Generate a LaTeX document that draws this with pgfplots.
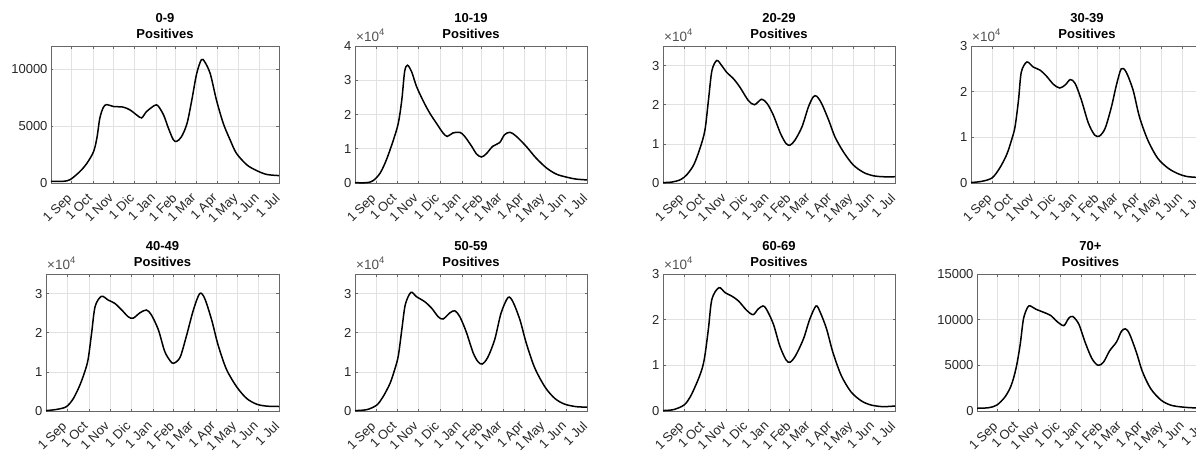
\documentclass[border=0pt]{standalone}
\usepackage{fontspec}
\setmainfont{Liberation Sans}
\usepackage{pgfplots}
\pgfplotsset{compat=1.18}
\definecolor{axgray}{RGB}{38,38,38}
\definecolor{gridgray}{RGB}{225,225,225}
\pgfplotsset{
  panel/.style={
    scale only axis, height=137pt, xmin=0, xmax=332, ymin=0,
    xtick={0,30,61,91,122,153,181,212,242,273,303},
    xticklabels={1 Sep,1 Oct,1 Nov,1 Dic,1 Jan,1 Feb,1 Mar,1 Apr,1 May,1 Jun,1 Jul},
    xticklabel style={rotate=45, anchor=north east, inner sep=0pt, yshift=-17pt, xshift=4pt},
    tick align=inside, major tick length=2.5pt,
    grid=major, grid style={color=gridgray, line width=0.6pt},
    axis line style={color=axgray!70, line width=0.6pt},
    tick style={color=axgray!70, line width=0.6pt},
    ticklabel style={font=\fontsize{13}{15}\selectfont, text=axgray},
    scaled y ticks=false,
    /pgf/number format/assume math mode=true,
    /pgf/number format/1000 sep={},
    title style={font=\bfseries\fontsize{13}{16}\selectfont, align=center, inner sep=2pt, yshift=-1pt},
    clip=false,
    anchor=south west,
  },
  e4/.style={
    after end axis/.code={\node[anchor=south west, inner sep=0pt, xshift=1pt, yshift=4pt, font=\fontsize{13.5}{15}\selectfont, text=axgray!80] at (rel axis cs:0,1) {×10\raisebox{0.45em}{\fontsize{9.5}{9.5}\selectfont 4}};},
  },
  curve/.style={black, line width=1.5pt, smooth, tension=0.5, no markers},
}
\begin{document}
\begin{tikzpicture}
% ---------- 0-9 ----------
\begin{axis}[panel, at={(51pt,273pt)}, width=228pt, ymax=12000, ytick={0,5000,10000}, yticklabels={0,5000,10000}, title={0-9\\Positives}]
\addplot[curve] coordinates {
(0,150)(18,150)(28,300)(42,1000)(52,1700)(62,2750)(67,4000)(71,5650)(76,6600)(81,6870)(91,6700)(105,6650)(115,6400)(125,5950)(132,5700)(139,6250)(151,6800)(156,6750)(164,5950)(171,4800)(178,3800)(183,3650)(190,4050)(198,5200)(205,7250)(212,9550)(219,10800)(224,10600)(232,9550)(241,7250)(251,5200)(261,3750)(270,2600)(285,1600)(299,1100)(314,750)(332,650)
};
\end{axis}
% ---------- 10-19 ----------
\begin{axis}[panel, e4, at={(355pt,273pt)}, width=232pt, ymax=40000, ytick={0,10000,20000,30000,40000}, yticklabels={0,1,2,3,4}, title={10-19\\Positives}]
\addplot[curve] coordinates {
(0,100)(17,100)(26,700)(36,2900)(45,6800)(55,12600)(62,17500)(67,24300)(71,32500)(75,34400)(81,32500)(88,28200)(98,23800)(107,20400)(117,17300)(126,14600)(132,13600)(140,14600)(150,14800)(157,13600)(167,10700)(174,8450)(181,7600)(188,8550)(197,10700)(207,11800)(214,14100)(222,14800)(231,13600)(245,10700)(259,7300)(274,4400)(288,2600)(302,1750)(316,1150)(332,900)
};
\end{axis}
% ---------- 20-29 ----------
\begin{axis}[panel, e4, at={(663pt,273pt)}, width=232pt, ymax=35000, ytick={0,10000,20000,30000}, yticklabels={0,1,2,3}, title={20-29\\Positives}]
\addplot[curve] coordinates {
(0,100)(13,250)(25,850)(34,2100)(44,4650)(53,8900)(60,13500)(65,21100)(70,28700)(77,31300)(84,30000)(91,28300)(101,26600)(110,24500)(122,21100)(131,20000)(141,21400)(149,20300)(158,17300)(168,12700)(176,10100)(182,9700)(189,11000)(199,14400)(208,19400)(215,22000)(220,22150)(227,20300)(237,16100)(246,11800)(258,8000)(272,4650)(287,2700)(301,1850)(315,1600)(332,1600)
};
\end{axis}
% ---------- 30-39 ----------
\begin{axis}[panel, e4, at={(971pt,273pt)}, width=232pt, ymax=30000, ytick={0,10000,20000,30000}, yticklabels={0,1,2,3}, title={30-39\\Positives}]
\addplot[curve] coordinates {
(0,100)(15,350)(30,1100)(41,3250)(51,6200)(58,9400)(63,12300)(68,18200)(72,24300)(80,26500)(89,25400)(99,24700)(108,23400)(118,21600)(127,20800)(135,21500)(142,22650)(149,21800)(158,18150)(168,13100)(177,10500)(184,10300)(192,12000)(201,16700)(208,21400)(215,25000)(222,24300)(232,20300)(241,14500)(253,9400)(267,5450)(282,3250)(296,2050)(308,1450)(321,1250)(332,1150)
};
\end{axis}
% ---------- 40-49 ----------
\begin{axis}[panel, e4, at={(46pt,45pt)}, width=233pt, ymax=35000, ytick={0,10000,20000,30000}, yticklabels={0,1,2,3}, title={40-49\\Positives}]
\addplot[curve] coordinates {
(0,100)(15,400)(29,1100)(39,3200)(48,6500)(55,9900)(60,13200)(65,19900)(70,26700)(79,29300)(89,28300)(98,27500)(108,25800)(117,24100)(124,23700)(134,25100)(143,25800)(150,24600)(160,20800)(169,15300)(177,12800)(182,12200)(191,13700)(200,19100)(210,25800)(219,30000)(226,28800)(236,23300)(245,17000)(257,10700)(272,6100)(286,3200)(300,1750)(314,1250)(332,1150)
};
\end{axis}
% ---------- 50-59 ----------
\begin{axis}[panel, e4, at={(355pt,45pt)}, width=232pt, ymax=35000, ytick={0,10000,20000,30000}, yticklabels={0,1,2,3}, title={50-59\\Positives}]
\addplot[curve] coordinates {
(0,100)(17,350)(31,1500)(40,3600)(50,7000)(57,10700)(62,14100)(67,20800)(72,27200)(80,30300)(88,29200)(100,27900)(110,26200)(119,24100)(126,23500)(136,25100)(143,25600)(150,24100)(159,20300)(169,14900)(176,12600)(182,12000)(190,13700)(200,18300)(209,25000)(219,29000)(226,27900)(236,23300)(245,17400)(257,11100)(272,6100)(286,3200)(300,1750)(317,1100)(332,1000)
};
\end{axis}
% ---------- 60-69 ----------
\begin{axis}[panel, e4, at={(663pt,45pt)}, width=232pt, ymax=30000, ytick={0,10000,20000,30000}, yticklabels={0,1,2,3}, title={60-69\\Positives}]
\addplot[curve] coordinates {
(0,100)(15,300)(30,1300)(39,3100)(49,6400)(56,9300)(60,12200)(65,18000)(70,24500)(80,27000)(89,25900)(98,25200)(108,24100)(120,22000)(129,21100)(136,22300)(143,23000)(148,22300)(158,19000)(167,14300)(176,11200)(182,10700)(190,12200)(201,15800)(210,20100)(219,23000)(225,21600)(234,18000)(243,12900)(255,7800)(269,4200)(284,2200)(298,1300)(315,950)(332,1100)
};
\end{axis}
% ---------- 70+ ----------
\begin{axis}[panel, at={(977pt,45pt)}, width=227pt, ymax=15000, ytick={0,5000,10000,15000}, yticklabels={0,5000,10000,15000}, title={70+\\Positives}]
\addplot[curve] coordinates {
(0,300)(17,360)(29,650)(41,1550)(50,2800)(57,4650)(63,7200)(68,10100)(74,11350)(78,11500)(86,11150)(96,10850)(108,10450)(117,9800)(127,9350)(134,10150)(140,10350)(149,9500)(158,7550)(168,5750)(177,5000)(185,5350)(194,6600)(204,7550)(211,8700)(217,9000)(223,8450)(233,6450)(242,4300)(254,2450)(269,1200)(283,650)(298,450)(316,350)(332,350)
};
\end{axis}
\pgfresetboundingbox
\path[use as bounding box] (0,0) rectangle (1196pt,456pt);
\end{tikzpicture}
\end{document}
